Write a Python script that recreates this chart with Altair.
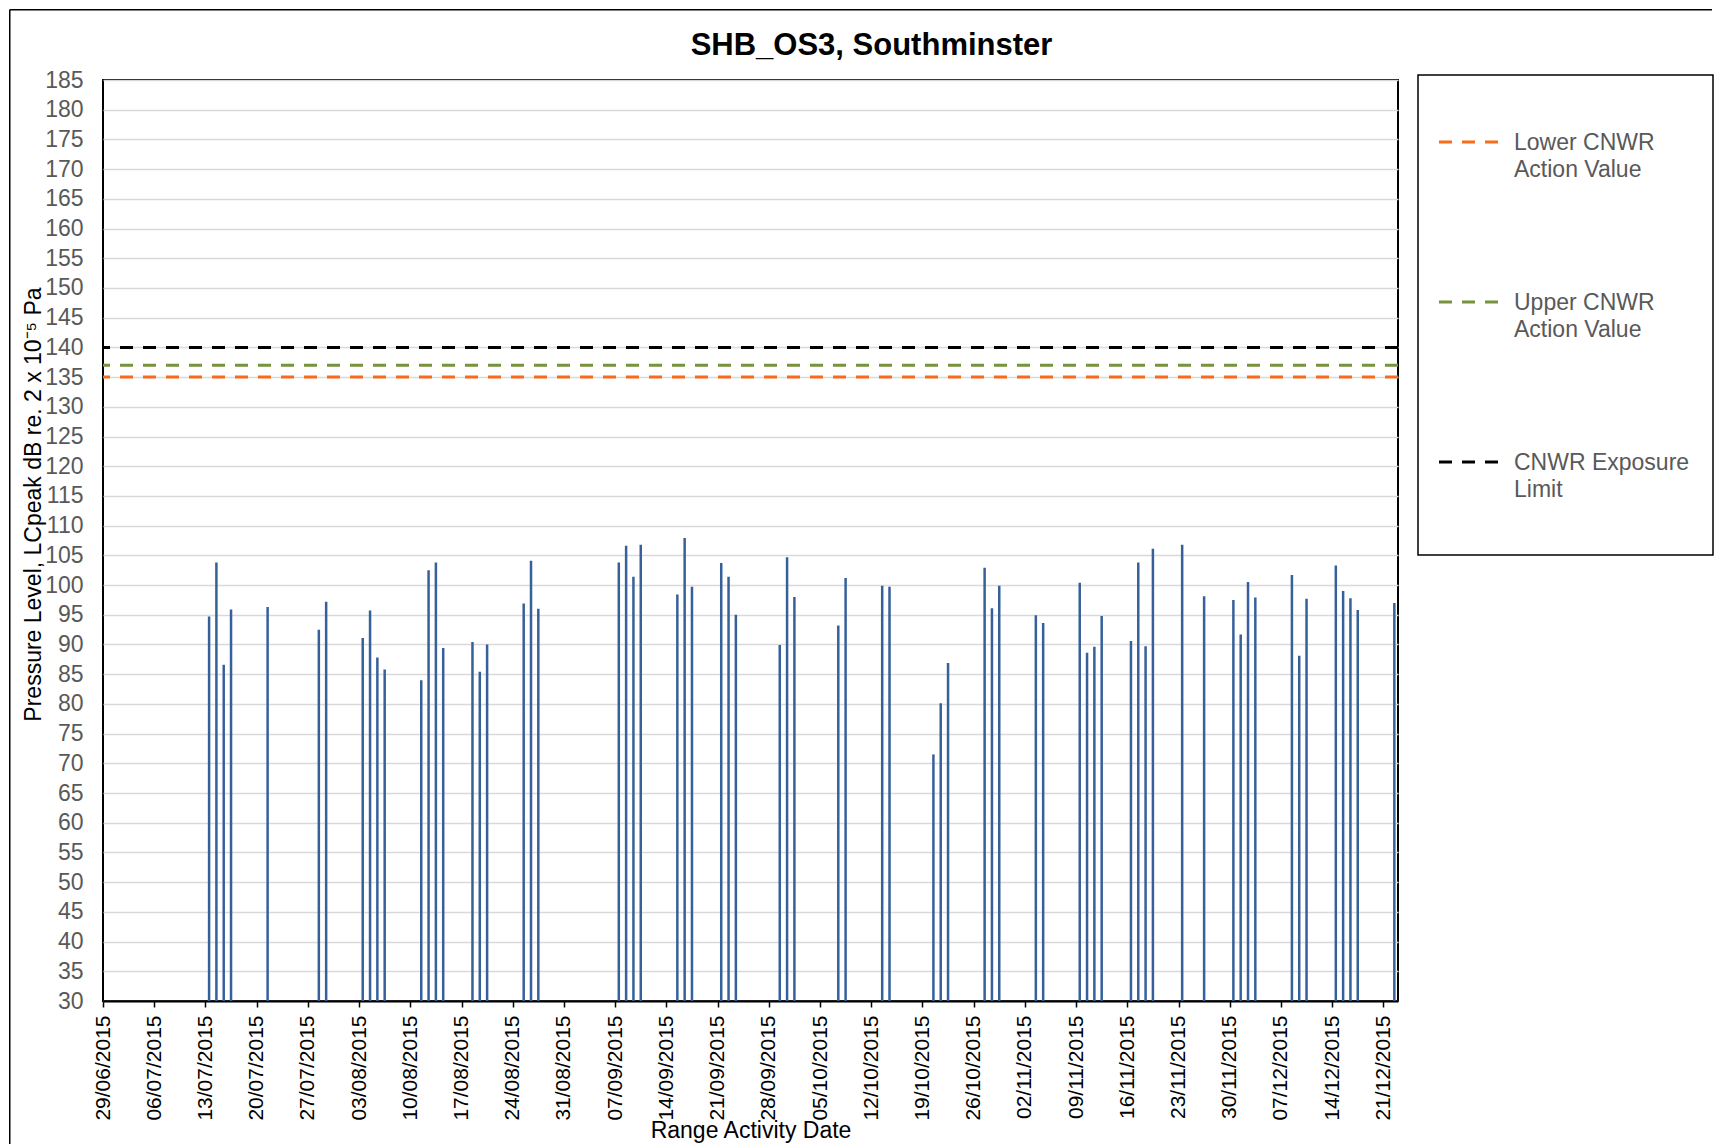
import altair as alt
import pandas as pd

# ---------------- data ----------------
title_text = "SHB_OS3, Southminster"
x_title = "Range Activity Date"
y_title = "Pressure Level, LCpeak dB re. 2 x 10\u207b\u2075 Pa"

activity_dates = [
    "2015-07-13", "2015-07-14", "2015-07-15", "2015-07-16", "2015-07-21",
    "2015-07-28", "2015-07-29", "2015-08-03", "2015-08-04", "2015-08-05",
    "2015-08-06", "2015-08-11", "2015-08-12", "2015-08-13", "2015-08-14",
    "2015-08-18", "2015-08-19", "2015-08-20", "2015-08-25", "2015-08-26",
    "2015-08-27", "2015-09-07", "2015-09-08", "2015-09-09", "2015-09-10",
    "2015-09-15", "2015-09-16", "2015-09-17", "2015-09-21", "2015-09-22",
    "2015-09-23", "2015-09-29", "2015-09-30", "2015-10-01", "2015-10-07",
    "2015-10-08", "2015-10-13", "2015-10-14", "2015-10-20", "2015-10-21",
    "2015-10-22", "2015-10-27", "2015-10-28", "2015-10-29", "2015-11-03",
    "2015-11-04", "2015-11-09", "2015-11-10", "2015-11-11", "2015-11-12",
    "2015-11-16", "2015-11-17", "2015-11-18", "2015-11-19", "2015-11-23",
    "2015-11-26", "2015-11-30", "2015-12-01", "2015-12-02", "2015-12-03",
    "2015-12-08", "2015-12-09", "2015-12-10", "2015-12-14", "2015-12-15",
    "2015-12-16", "2015-12-17", "2015-12-22",
]
peak_levels = [
    94.7, 103.8, 86.6, 95.9, 96.3,
    92.5, 97.2, 91.1, 95.7, 87.8,
    85.8, 84.0, 102.5, 103.8, 89.4,
    90.4, 85.4, 90.0, 96.9, 104.1,
    96.0, 103.8, 106.6, 101.4, 106.8,
    98.4, 107.9, 99.7, 103.7, 101.4,
    95.0, 89.9, 104.7, 98.0, 93.2,
    101.2, 99.9, 99.7, 71.5, 80.1,
    86.9, 102.9, 96.1, 99.9, 94.9,
    93.6, 100.4, 88.6, 89.6, 94.8,
    90.6, 103.8, 89.7, 106.1, 106.8,
    98.1, 97.5, 91.7, 100.5, 97.9,
    101.7, 88.1, 97.7, 103.3, 99.0,
    97.8, 95.8, 97.0,
]

limit_names = ["Lower CNWR Action Value", "Upper CNWR Action Value", "CNWR Exposure Limit"]
limit_levels = [135, 137, 140]
limit_colors = ["#F96A1B", "#77933C", "#000000"]
legend_labels = ["Lower CNWR\nAction Value", "Upper CNWR\nAction Value", "CNWR Exposure\nLimit"]

tick_dates = [
    "2015-06-29", "2015-07-06", "2015-07-13", "2015-07-20", "2015-07-27",
    "2015-08-03", "2015-08-10", "2015-08-17", "2015-08-24", "2015-08-31",
    "2015-09-07", "2015-09-14", "2015-09-21", "2015-09-28", "2015-10-05",
    "2015-10-12", "2015-10-19", "2015-10-26", "2015-11-02", "2015-11-09",
    "2015-11-16", "2015-11-23", "2015-11-30", "2015-12-07", "2015-12-14",
    "2015-12-21",
]
axis_start = "2015-06-29"
axis_end = "2015-12-23"
y_min, y_max, y_step = 30, 185, 5
y_ticks = list(range(y_min, y_max + 1, y_step))

FONT = "Liberation Sans"
PLOT_W, PLOT_H = 1295, 921
LEG_W, LEG_H = 295, 475


def to_dt(s):
    y, m, d = (int(p) for p in s.split("-"))
    return alt.DateTime(year=y, month=m, date=d)


# each day's reading is drawn in the middle of its day slot (Excel date axis)
spike_df = pd.DataFrame({
    "date": [d + "T12:00:00" for d in activity_dates],
    "level": peak_levels,
})
limits_df = pd.DataFrame({"name": limit_names, "level": limit_levels})
legend_df = pd.DataFrame({
    "name": limit_names,
    "row": list(range(len(limit_names))),
    "label": legend_labels,
})

x_scale = alt.Scale(domain=[to_dt(axis_start), to_dt(axis_end)])
y_scale = alt.Scale(domain=[y_min, y_max], nice=False, zero=False)
color_enc = alt.Color(
    "name:N",
    scale=alt.Scale(domain=limit_names, range=limit_colors),
    legend=None,
)

x_axis = alt.Axis(
    values=[to_dt(t) for t in tick_dates],
    tickCount=len(tick_dates),
    format="%d/%m/%Y",
    labelAngle=270,
    labelAlign="right",
    labelBaseline="middle",
    labelFontSize=21,
    labelColor="black",
    labelPadding=8,
    labelFlush=False,
    labelOverlap=False,
    tickSize=6,
    tickColor="black",
    tickWidth=1.5,
    domainColor="black",
    domainWidth=2,
    grid=False,
    title=x_title,
    titleFontSize=23,
    titleFontWeight="normal",
    titleColor="black",
    titleBaseline="alphabetic",
    titleY=136,
)
y_axis = alt.Axis(
    values=y_ticks,
    tickCount=len(y_ticks),
    labelOverlap=False,
    grid=True,
    gridColor="#D9D9D9",
    gridWidth=1.3,
    ticks=False,
    domain=False,
    labelFontSize=23,
    labelColor="#595959",
    labelPadding=20,
    title=y_title,
    titleFontSize=23,
    titleFontWeight="normal",
    titleColor="black",
    titleAngle=270,
    titleAlign="center",
    titleBaseline="alphabetic",
    titleX=-63,
    titleY=424,
)

spikes = alt.Chart(spike_df).mark_rule(strokeWidth=2.5, color="#36609A").encode(
    x=alt.X("date:T", scale=x_scale, axis=x_axis),
    y=alt.Y("level:Q", scale=y_scale, axis=y_axis),
    y2=alt.datum(y_min),
)

limits = alt.Chart(limits_df).mark_rule(strokeDash=[13, 10], strokeWidth=3).encode(
    y=alt.Y("level:Q", scale=y_scale),
    color=color_enc,
)

# chart title and the outer chart-area frame (left and top edges, as in the Excel export)
one_row = alt.InlineData(values=[{"title": title_text}])
title_mark = alt.Chart(one_row).mark_text(
    font=FONT, fontSize=31, fontWeight="bold", color="black",
    align="center", baseline="alphabetic",
).encode(
    x=alt.value(768.5), y=alt.value(-25), text="title:N",
)
frame_left = alt.Chart(one_row).mark_rule(color="black", strokeWidth=1.5).encode(
    x=alt.value(-93.25), y=alt.value(-70.25), y2=alt.value(1065),
)
frame_top = alt.Chart(one_row).mark_rule(color="black", strokeWidth=1.5).encode(
    x=alt.value(-93.25), x2=alt.value(1609), y=alt.value(-70.25),
)

main = alt.layer(spikes, limits, title_mark, frame_left, frame_top).properties(
    width=PLOT_W,
    height=PLOT_H,
)

# ------------- legend panel -------------
leg_y = alt.Y(
    "row:Q",
    scale=alt.Scale(domain=[-0.3875, 2.58125], reverse=True, nice=False, zero=False),
    axis=None,
)

leg_box = alt.Chart(one_row).mark_rect(
    fillOpacity=0, stroke="black", strokeWidth=1.5,
).encode(
    x=alt.value(0), x2=alt.value(LEG_W), y=alt.value(-5), y2=alt.value(LEG_H),
)
leg_lines = alt.Chart(legend_df).mark_rule(strokeDash=[13, 10], strokeWidth=3).encode(
    x=alt.value(21),
    x2=alt.value(81),
    y=leg_y,
    color=color_enc,
)
leg_text = alt.Chart(legend_df).mark_text(
    align="left", baseline="alphabetic", dy=8, fontSize=23, font=FONT,
    lineBreak="\n", lineHeight=27, color="#595959",
).encode(
    x=alt.value(96),
    y=leg_y,
    text="label:N",
)
legend_panel = alt.layer(leg_box, leg_lines, leg_text).properties(
    width=LEG_W, height=LEG_H,
    view=alt.ViewBackground(strokeOpacity=0),
)

chart = alt.hconcat(main, legend_panel, spacing=20, bounds="flush").properties(
    padding={"left": 0, "top": 0, "right": 0, "bottom": 0},
    background="white",
).configure_view(
    stroke="black", strokeWidth=2,
).configure_axis(
    labelFont=FONT, titleFont=FONT,
)

chart.save("out.html", embed_options={"renderer": "svg", "actions": False})
